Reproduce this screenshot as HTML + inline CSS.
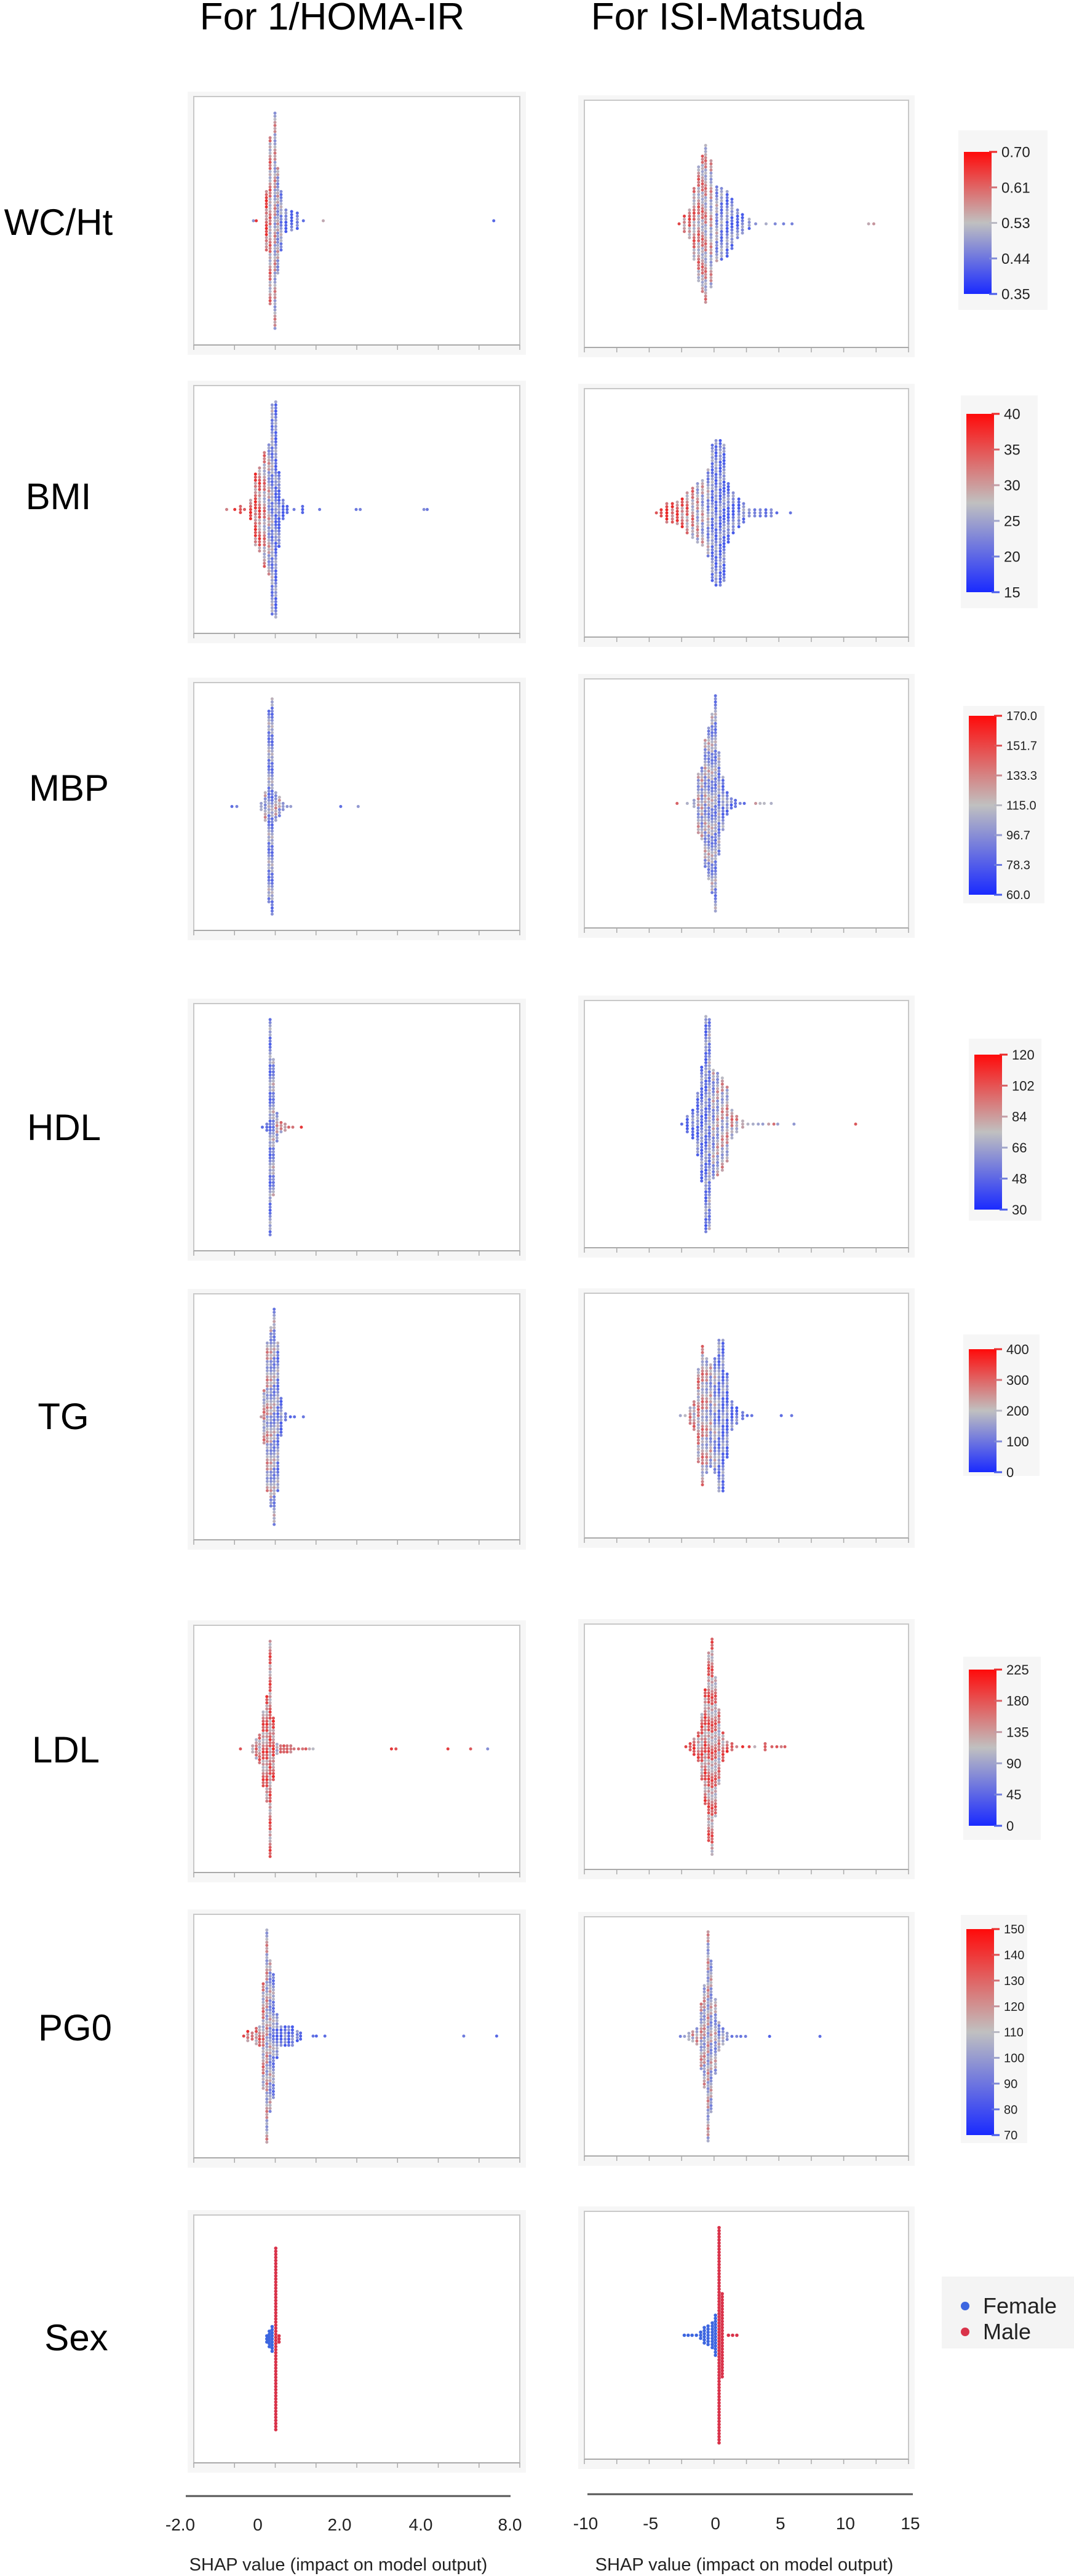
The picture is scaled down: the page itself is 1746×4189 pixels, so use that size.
<!DOCTYPE html>
<html><head><meta charset="utf-8">
<style>
html,body{margin:0;padding:0;background:#fff;}
svg{display:block;font-family:"Liberation Sans",Arial,sans-serif;}
</style></head>
<body>
<svg id="fig" width="1746" height="4189" viewBox="0 0 1746 4189" xmlns="http://www.w3.org/2000/svg">
<text x="540" y="48" font-size="62" text-anchor="middle" fill="#000">For 1/HOMA-IR</text>
<text x="1183" y="48" font-size="62" text-anchor="middle" fill="#000">For ISI-Matsuda</text>
<g id="panels"></g>
<g id="bottom-axes"></g>
</svg>
<script>
// ---------- data: row labels ----------
const rowLabels = ['WC/Ht','BMI','MBP','HDL','TG','LDL','PG0','Sex'];
// ---------- colorbar tick labels ----------
const cbWC  = ['0.70','0.61','0.53','0.44','0.35'];
const cbBMI = ['40','35','30','25','20','15'];
const cbMBP = ['170.0','151.7','133.3','115.0','96.7','78.3','60.0'];
const cbHDL = ['120','102','84','66','48','30'];
const cbTG  = ['400','300','200','100','0'];
const cbLDL = ['225','180','135','90','45','0'];
const cbPG0 = ['150','140','130','120','110','100','90','80','70'];
// ---------- bottom axis tick labels ----------
const leftTickVals = [-2,0,2,4,6];
const leftTickText = ['-2.0','0','2.0','4.0','8.0'];
const rightTickVals = [-10,-5,0,5,10,15];
const rightTickText = ['-10','-5','0','5','10','15'];

// ---------- swarm data: column SHAP value, dot count, feature level (0=low,1=high) ----------
// WC/Ht
const wcLShap=[-0.53,-0.46,-0.21,-0.12,0,0.07,0.15,0.27,0.41,0.55,0.70,1.19,5.39];
const wcLCount=[1,1,20,55,71,35,20,8,7,6,1,1,1];
const wcLFeat=[0.3,0.9,0.8,0.62,0.5,0.42,0.3,0.12,0.08,0.08,0.05,0.6,0.05];
const wcRShap=[-2.7,-2.3,-1.9,-1.55,-1.2,-0.9,-0.66,-0.24,0.2,0.57,1.0,1.37,1.8,2.18,2.7,3.2,4.0,4.7,5.35,6.0,11.9,12.3];
const wcRCount=[1,6,10,24,38,45,52,42,25,24,22,17,10,7,4,1,1,1,1,1,1,1];
const wcRFeat=[0.9,0.75,0.7,0.65,0.62,0.6,0.56,0.5,0.35,0.25,0.2,0.18,0.15,0.15,0.2,0.3,0.4,0.3,0.2,0.15,0.6,0.6];
// BMI
const bmiLShap=[-1.19,-0.99,-0.85,-0.75,-0.6,-0.48,-0.38,-0.26,-0.15,-0.07,0.02,0.1,0.2,0.3,0.47,0.68,1.1,2.0,2.1,3.67,3.75];
const bmiLCount=[1,1,3,1,7,24,28,38,43,69,71,25,7,3,1,3,1,1,1,1,1];
const bmiLFeat=[0.7,0.9,0.85,0.8,0.8,0.78,0.72,0.6,0.45,0.3,0.2,0.15,0.12,0.1,0.1,0.1,0.12,0.2,0.2,0.2,0.2];
const bmiRShap=[-4.45,-4.08,-3.65,-3.22,-2.84,-2.46,-2.08,-1.66,-1.28,-0.9,-0.47,-0.14,0.14,0.47,0.76,1.09,1.47,1.9,2.27,2.7,3.13,3.55,3.98,4.4,4.83,5.88];
const bmiRCount=[1,3,7,7,8,10,14,17,20,22,29,45,48,48,45,20,14,10,7,3,3,3,3,3,1,1];
const bmiRFeat=[0.85,0.9,0.88,0.85,0.8,0.75,0.68,0.6,0.5,0.45,0.35,0.25,0.22,0.2,0.18,0.15,0.15,0.15,0.2,0.3,0.2,0.2,0.15,0.2,0.1,0.1];
// MBP
const mbpLShap=[-1.06,-0.94,-0.34,-0.24,-0.15,-0.07,0.02,0.11,0.2,0.3,0.39,1.62,2.05];
const mbpLCount=[1,1,3,10,63,71,10,7,3,1,1,1,1];
const mbpLFeat=[0.1,0.15,0.4,0.45,0.3,0.28,0.45,0.4,0.35,0.3,0.3,0.15,0.3];
const mbpRShap=[-2.86,-2.07,-1.55,-1.22,-0.95,-0.69,-0.42,-0.16,0.1,0.37,0.68,1.0,1.32,1.64,2.0,2.32,3.2,3.54,3.86,4.4];
const mbpRCount=[1,1,3,20,24,42,50,59,71,34,18,8,4,3,1,1,1,1,1,1];
const mbpRFeat=[0.8,0.4,0.4,0.45,0.42,0.4,0.38,0.35,0.3,0.3,0.25,0.2,0.15,0.15,0.15,0.1,0.6,0.55,0.5,0.4];
// HDL
const hdlLShap=[-0.31,-0.2,-0.12,-0.04,0.05,0.15,0.25,0.34,0.44,0.65];
const hdlLCount=[1,3,71,45,10,4,3,1,1,1];
const hdlLFeat=[0.1,0.15,0.25,0.35,0.45,0.55,0.65,0.75,0.8,0.95];
const hdlRShap=[-2.5,-2.07,-1.65,-1.27,-0.96,-0.64,-0.37,-0.06,0.26,0.63,1.0,1.37,1.74,2.2,2.6,3.0,3.4,3.75,4.2,4.6,4.9,6.15,10.9];
const hdlRCount=[1,6,10,21,38,71,69,36,34,31,25,10,6,3,1,1,1,1,1,1,1,1,1];
const hdlRFeat=[0.1,0.12,0.15,0.2,0.2,0.22,0.3,0.38,0.45,0.5,0.52,0.58,0.6,0.6,0.4,0.45,0.35,0.4,0.6,0.7,0.4,0.3,0.9];
// TG
const tgLShap=[-0.34,-0.27,-0.19,-0.1,-0.02,0.07,0.15,0.26,0.38,0.48,0.7];
const tgLCount=[1,18,49,59,71,49,13,3,1,1,1];
const tgLFeat=[0.6,0.55,0.5,0.42,0.35,0.28,0.2,0.15,0.1,0.1,0.1];
const tgRShap=[-2.6,-2.23,-1.85,-1.55,-1.22,-0.9,-0.58,-0.27,0.05,0.37,0.68,1.0,1.37,1.74,2.2,2.55,2.9,5.17,5.97];
const tgRCount=[1,1,6,10,31,46,38,34,38,50,50,28,10,6,3,1,1,1,1];
const tgRFeat=[0.4,0.45,0.55,0.6,0.6,0.58,0.5,0.42,0.35,0.25,0.2,0.18,0.15,0.12,0.12,0.1,0.1,0.15,0.15];
// LDL
const ldlLShap=[-0.85,-0.55,-0.46,-0.38,-0.29,-0.2,-0.12,-0.04,0.05,0.14,0.22,0.3,0.39,0.47,0.58,0.68,0.76,0.85,0.94,2.87,2.98,4.26,4.82,5.24];
const ldlLCount=[1,3,7,10,25,35,71,21,4,3,3,3,3,1,1,1,1,1,1,1,1,1,1,1];
const ldlLFeat=[0.85,0.55,0.6,0.65,0.7,0.72,0.7,0.75,0.6,0.75,0.8,0.8,0.7,0.8,0.7,0.75,0.8,0.6,0.5,0.9,0.9,0.9,0.9,0.2];
const ldlRShap=[-2.18,-1.85,-1.55,-1.22,-0.95,-0.69,-0.42,-0.16,0.1,0.37,0.68,1.0,1.37,1.74,2.2,2.7,3.13,3.93,4.45,4.83,5.17,5.45];
const ldlRCount=[1,3,6,10,22,38,62,71,46,25,10,4,3,1,1,1,1,3,1,1,1,1];
const ldlRFeat=[0.9,0.85,0.75,0.7,0.7,0.72,0.7,0.68,0.65,0.6,0.7,0.75,0.8,0.75,0.9,0.9,0.5,0.85,0.8,0.8,0.75,0.8];
// PG0
const pgLShap=[-0.77,-0.67,-0.56,-0.46,-0.38,-0.29,-0.2,-0.12,-0.04,0.05,0.15,0.25,0.34,0.43,0.55,0.63,0.94,1.02,1.23,4.65,5.46];
const pgLCount=[1,4,3,6,7,35,70,50,41,15,7,7,7,7,4,3,1,1,1,1,1];
const pgLFeat=[0.9,0.8,0.75,0.7,0.65,0.58,0.5,0.4,0.3,0.2,0.15,0.12,0.12,0.1,0.1,0.1,0.1,0.1,0.1,0.12,0.12];
const pgRShap=[-2.6,-2.28,-1.95,-1.65,-1.33,-1.0,-0.76,-0.47,-0.24,0.1,0.37,0.68,1.0,1.37,1.74,2.05,2.42,4.27,8.15];
const pgRCount=[1,1,3,4,6,22,34,69,50,25,10,6,3,1,1,1,1,1,1];
const pgRFeat=[0.2,0.3,0.45,0.55,0.5,0.5,0.48,0.48,0.42,0.4,0.35,0.3,0.3,0.2,0.15,0.15,0.15,0.1,0.1];
// Sex (0 = Female, 1 = Male)
const sexLShap=[-0.2,-0.14,-0.07,0.02,0.1];
const sexLCount=[3,6,9,60,3];
const sexLFeat=[0,0,0,1,1];
const sexRShap=[-2.3,-2.0,-1.7,-1.37,-1.04,-0.76,-0.47,-0.14,0.1,0.38,0.62,1.1,1.42,1.75];
const sexRCount=[1,1,1,1,3,6,7,9,14,71,28,1,1,1];
const sexRFeat=[0,0,0,0,0,0,0,0,0,1,1,1,1,1];

// ---------- layout ----------
const NS='http://www.w3.org/2000/svg';
const svg=document.getElementById('fig');
const panelsG=document.getElementById('panels');
function mk(tag,attrs,parent){const e=document.createElementNS(NS,tag);for(const k in attrs)e.setAttribute(k,attrs[k]);(parent||panelsG).appendChild(e);return e;}

const L={x0:315,x1:845,zero:447,ppu:66};
const R={x0:950,x1:1477,zero:1161,ppu:21.1};
function xL(v){return L.zero+v*L.ppu;}
function xR(v){return R.zero+v*R.ppu;}

const leftBoxes=[[157,561],[627,1030],[1110,1513],[1632,2034],[2104,2504],[2643,3045],[3113,3509],[3602,4005]];
const rightBoxes=[[163,565],[632,1036],[1104,1509],[1627,2029],[2103,2501],[2641,3040],[3117,3506],[3596,3999]];
const labelCx=[95,95,112,104,103,107,122,124];
const labelCy=[361,807,1281,1833,2303,2845,3297,3801];

const leftData=[[wcLShap,wcLCount,wcLFeat],[bmiLShap,bmiLCount,bmiLFeat],[mbpLShap,mbpLCount,mbpLFeat],[hdlLShap,hdlLCount,hdlLFeat],[tgLShap,tgLCount,tgLFeat],[ldlLShap,ldlLCount,ldlLFeat],[pgLShap,pgLCount,pgLFeat],[sexLShap,sexLCount,sexLFeat]];
const rightData=[[wcRShap,wcRCount,wcRFeat],[bmiRShap,bmiRCount,bmiRFeat],[mbpRShap,mbpRCount,mbpRFeat],[hdlRShap,hdlRCount,hdlRFeat],[tgRShap,tgRCount,tgRFeat],[ldlRShap,ldlRCount,ldlRFeat],[pgRShap,pgRCount,pgRFeat],[sexRShap,sexRCount,sexRFeat]];

const cbLabels=[cbWC,cbBMI,cbMBP,cbHDL,cbTG,cbLDL,cbPG0];
// colorbar geometry: [boxX,boxY,boxW,boxH,barY0,barY1]
const cbGeom=[[1558,212,145,292,247,478],[1562,643,125,346,673,963],[1566,1148,132,321,1164,1455],[1575,1689,118,296,1715,1967],[1566,2170,124,230,2194,2394],[1566,2694,126,298,2715,2969],[1562,3114,108,371,3137,3472]];
const cbFont=[24,24,20,22,22,22,20];

function lerp(a,b,t){return Math.round(a+(b-a)*t);}
function cmap(v){
  v=Math.max(0,Math.min(1,v));
  const lo=[70,90,235],mid=[185,185,195],hi=[235,40,40];
  if(v<0.5){const t=v/0.5;return 'rgb('+lerp(lo[0],mid[0],t)+','+lerp(lo[1],mid[1],t)+','+lerp(lo[2],mid[2],t)+')';}
  const t=(v-0.5)/0.5;return 'rgb('+lerp(mid[0],hi[0],t)+','+lerp(mid[1],hi[1],t)+','+lerp(mid[2],hi[2],t)+')';
}
const jit=[0,0.18,-0.14,0.08,-0.22,0.25,-0.05,0.12,-0.18];

function drawPanel(box,ax,xf,data,side,row){
  const g=mk('g',{});
  
  
  const top=box[0],bot=box[1];
  mk('rect',{x:ax.x0-10,y:top-8,width:ax.x1-ax.x0+20,height:bot-top+24,fill:'#f6f6f6'},g);
  const fr=mk('rect',{x:ax.x0,y:top,width:ax.x1-ax.x0,height:bot-top,fill:'#fff',stroke:'#c8c8c8','stroke-width':2},g);
  
  
  mk('line',{x1:ax.x0,y1:bot,x2:ax.x1,y2:bot,stroke:'#aaa','stroke-width':2},g);
  const nt=side==='left'?8:10;
  for(let k=0;k<=nt;k++){
    const tx=ax.x0+(ax.x1-ax.x0)*k/nt;
    mk('line',{x1:tx,y1:bot,x2:tx,y2:bot+8,stroke:'#aaa','stroke-width':1.5},g);
  }
  const cy=(top+bot)/2;
  const isSex=row==='sex';
  const step=5;
  const sh=data[0],cnt=data[1],ft=data[2];
  for(let c=0;c<sh.length;c++){
    const cx=xf(sh[c]);
    const n=cnt[c];
    for(let i=0;i<n;i++){
      const y=cy+(i-(n-1)/2)*step;
      const col=isSex?(ft[c]>0.5?'#d9334a':'#3d66e0'):cmap(ft[c]+jit[(i*7+c)%9]*(n>3?1:0.3));
      const d=mk('circle',{cx:cx.toFixed(1),cy:y.toFixed(1),r:isSex?2.8:2.5,fill:col},g);
      
      
    }
  }
}

for(let r=0;r<8;r++){
  const key=rowLabels[r].toLowerCase().replace('/','-');
  const t=mk('text',{x:labelCx[r],y:labelCy[r]+21,'font-size':60,'text-anchor':'middle',fill:'#000'});
  t.textContent=rowLabels[r];
  
  
  drawPanel(leftBoxes[r],L,xL,leftData[r],'left',key);
  drawPanel(rightBoxes[r],R,xR,rightData[r],'right',key);
}

// colorbars
for(let r=0;r<7;r++){
  const gm=cbGeom[r];
  const g=mk('g',{});
  
  
  mk('rect',{x:gm[0],y:gm[1],width:gm[2],height:gm[3],fill:'#f6f6f6'},g);
  const gid='grad'+r;
  const defs=mk('defs',{},g);
  const lg=mk('linearGradient',{id:gid,x1:0,y1:0,x2:0,y2:1},defs);
  mk('stop',{offset:'0','stop-color':'#ff0a0a'},lg);
  mk('stop',{offset:'0.5','stop-color':'#c0c0c0'},lg);
  mk('stop',{offset:'1','stop-color':'#1a2aff'},lg);
  const bx=gm[0]+9,bw=45;
  mk('rect',{x:bx,y:gm[4],width:bw,height:gm[5]-gm[4],fill:'url(#'+gid+')'},g);
  const labs=cbLabels[r];
  for(let i=0;i<labs.length;i++){
    const ty=gm[4]+(gm[5]-gm[4])*i/(labs.length-1);
    mk('line',{x1:bx+bw-4,y1:ty,x2:bx+bw+9,y2:ty,stroke:cmap(1-i/(labs.length-1)),'stroke-width':3},g);
    const tt=mk('text',{x:bx+bw+16,y:ty+cbFont[r]*0.36,'font-size':cbFont[r],fill:'#222'},g);
    tt.textContent=labs[i];
    
    
  }
}

// sex legend
(function(){
  const g=mk('g',{});
  
  
  mk('rect',{x:1531,y:3702,width:215,height:117,fill:'#f4f4f4'},g);
  mk('circle',{cx:1569,cy:3750,r:7,fill:'#3d66e0'},g);
  mk('circle',{cx:1569,cy:3792,r:7,fill:'#d9334a'},g);
  const t1=mk('text',{x:1598,y:3762,'font-size':36,fill:'#222'},g);t1.textContent='Female';
  
  
  const t2=mk('text',{x:1598,y:3804,'font-size':36,fill:'#222'},g);t2.textContent='Male';
  
  
})();

// bottom axes
(function(){
  const bg=document.getElementById('bottom-axes');
  const la=mk('line',{x1:302,y1:4059,x2:830,y2:4059,stroke:'#555','stroke-width':3},bg);
  
  
  const ra=mk('line',{x1:955,y1:4056,x2:1484,y2:4056,stroke:'#555','stroke-width':3},bg);
  
  
  const lpos=[293,419,552,684,829];
  for(let i=0;i<leftTickText.length;i++){
    const t=mk('text',{x:lpos[i],y:4115,'font-size':28,'text-anchor':'middle',fill:'#222'},bg);
    t.textContent=leftTickText[i];
    
    
  }
  for(let i=0;i<rightTickText.length;i++){
    const x=952+(rightTickVals[i]+10)*(1480-952)/25;
    const t=mk('text',{x:x,y:4113,'font-size':28,'text-anchor':'middle',fill:'#222'},bg);
    t.textContent=rightTickText[i];
    
    
  }
  const a1=mk('text',{x:550,y:4180,'font-size':29,'text-anchor':'middle',fill:'#222'},bg);
  a1.textContent='SHAP value (impact on model output)';
  
  
  const a2=mk('text',{x:1210,y:4180,'font-size':29,'text-anchor':'middle',fill:'#222'},bg);
  a2.textContent='SHAP value (impact on model output)';
  
  
})();
</script>
</body></html>
